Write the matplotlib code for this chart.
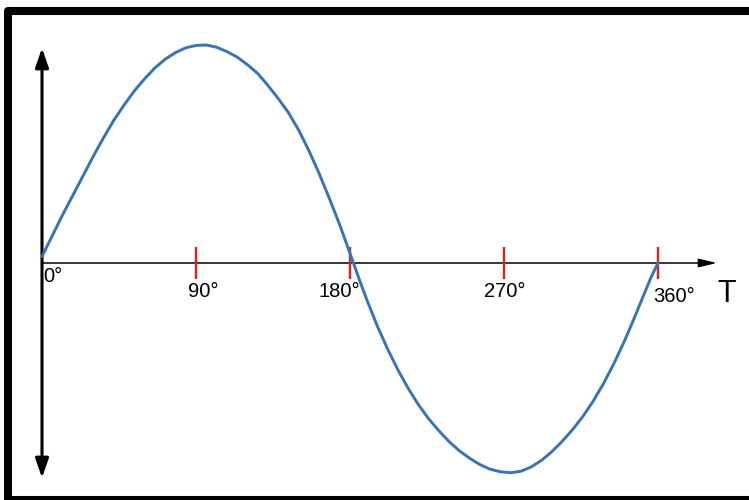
import matplotlib
matplotlib.use("Agg")
import matplotlib.pyplot as plt
from matplotlib.patches import Rectangle, FancyArrowPatch

# curve: angle in degrees, amplitude (peak ~ 1)
angle = [0, 6, 12, 18, 24, 30, 36, 42, 48, 54, 60, 66, 72, 78, 84, 90, 96,
         102, 108, 114, 120, 126, 132, 138, 144, 150, 156, 162, 168, 174, 178,
         182, 186, 190, 196, 202, 208, 214, 220, 226, 232, 238, 244, 250, 256,
         262, 268, 274, 280, 286, 292, 298, 304, 310, 316, 322, 328, 334, 340,
         346, 352, 356, 360]
amp = [0.03, 0.125, 0.22, 0.31, 0.40, 0.49, 0.575, 0.655, 0.725, 0.79, 0.845,
       0.895, 0.935, 0.965, 0.987, 0.998, 1.0, 0.99, 0.97, 0.945, 0.91, 0.87,
       0.815, 0.755, 0.69, 0.61, 0.515, 0.41, 0.295, 0.175, 0.088, 0.0,
       -0.088, -0.172, -0.29, -0.395, -0.49, -0.575, -0.65, -0.715, -0.77,
       -0.82, -0.862, -0.896, -0.925, -0.946, -0.958, -0.962, -0.955, -0.935,
       -0.905, -0.865, -0.818, -0.765, -0.705, -0.635, -0.555, -0.465, -0.365,
       -0.255, -0.14, -0.065, 0.0]

tick_deg = [90, 180, 270, 360]
tick_labels = ["0°", "90°", "180°", "270°", "360°"]
label_x = [0.6, 85.3, 161.3, 258.3, 357.1]
label_y = [-0.087, -0.156, -0.156, -0.156, -0.179]

W, H = 749, 500
fig = plt.figure(figsize=(W / 100, H / 100), dpi=100)
ax = fig.add_axes([0, 0, 1, 1])
ax.set_axis_off()

# 0 deg sits at x=42px, 360 deg at x=658px; zero line at y=263px, 218px per unit
px_deg = 616 / 360
ax.set_xlim(-42 / px_deg, (W - 42) / px_deg)
ax.set_ylim(-(H - 263) / 218, 263 / 218)

# outer frame
fig.patches.append(Rectangle((8 / W, 0), (W + 10) / W, 1 - 11 / H,
                             transform=fig.transFigure, fill=False,
                             edgecolor="black", linewidth=5.8,
                             joinstyle="round", zorder=0))

# axes arrows
ax.add_patch(FancyArrowPatch((0, -0.986), (0, 0.986),
                             arrowstyle="<|-|>,head_length=0.58,head_width=0.2",
                             mutation_scale=20, color="black", lw=2.2,
                             shrinkA=0, shrinkB=0))
ax.add_patch(FancyArrowPatch((0, 0), (394.5, 0),
                             arrowstyle="-|>,head_length=0.55,head_width=0.13",
                             mutation_scale=20, color="black", lw=1.1,
                             shrinkA=0, shrinkB=0))

ax.plot(angle, amp, color="#3674b4", lw=2.1, solid_capstyle="round",
        solid_joinstyle="round", zorder=3)

ax.vlines(tick_deg, -0.073, 0.073, color="#e0201f", lw=1.7, zorder=2)

for lab, x, y in zip(tick_labels, label_x, label_y):
    ax.text(x, y, lab, family="Liberation Sans", fontsize=14.5,
            ha="left", va="baseline", color="black")
ax.text(394.5, -0.177, "T", family="Liberation Sans", fontsize=22,
        ha="left", va="baseline", color="black")

fig.savefig("out.png", dpi=100, facecolor="white")
